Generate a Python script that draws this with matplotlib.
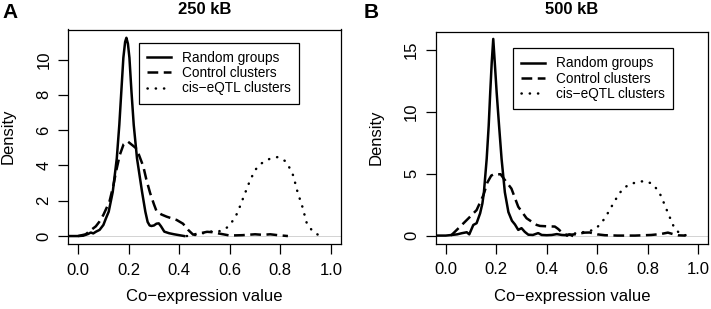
import numpy as np
import matplotlib
matplotlib.use("Agg")
from matplotlib import pyplot as plt

plt.rcParams['font.family'] = ['Liberation Sans', 'DejaVu Sans']

# ---- panel A (250 kB) ----
a_rand_x = [-0.04, 0.0, 0.02, 0.04, 0.05, 0.06, 0.071, 0.085, 0.10, 0.11, 0.121, 0.137, 0.153, 0.163,
            0.171, 0.179, 0.186, 0.191, 0.197, 0.203, 0.211, 0.22, 0.233, 0.253, 0.266, 0.275, 0.283,
            0.29, 0.30, 0.31, 0.319, 0.328, 0.341, 0.36, 0.38, 0.40, 0.42]
a_rand_y = [0, 0, 0.02, 0.12, 0.2, 0.15, 0.25, 0.35, 0.63, 1.0, 1.38, 2.5, 4.4, 6.3,
            8.2, 10.1, 11.0, 11.23, 10.9, 10.1, 8.2, 6.3, 4.4, 2.5, 1.38, 0.8, 0.6,
            0.57, 0.6, 0.7, 0.72, 0.55, 0.25, 0.16, 0.1, 0.05, 0.0]

a_ctrl_x = [0.0, 0.03, 0.051, 0.07, 0.084, 0.10, 0.124, 0.14, 0.15, 0.165, 0.18, 0.196, 0.21,
            0.229, 0.238, 0.258, 0.27, 0.285, 0.3, 0.311, 0.33, 0.35, 0.39, 0.415, 0.436, 0.455,
            0.48, 0.51, 0.53, 0.555, 0.6, 0.65, 0.7, 0.73, 0.76, 0.79, 0.83]
a_ctrl_y = [0.0, 0.1, 0.34, 0.55, 0.81, 1.2, 1.95, 2.9, 3.65, 4.6, 5.2, 5.36, 5.2,
            4.98, 4.7, 3.94, 3.2, 2.43, 1.8, 1.38, 1.22, 1.1, 0.91, 0.7, 0.34, 0.08,
            0.15, 0.24, 0.22, 0.15, 0.03, 0.05, 0.1, 0.07, 0.1, 0.05, 0.0]

a_cis_x = [0.43, 0.46, 0.49, 0.528, 0.561, 0.59, 0.611, 0.627, 0.64, 0.651, 0.664, 0.676, 0.689,
           0.704, 0.727, 0.756, 0.788, 0.818, 0.835, 0.851, 0.868, 0.887, 0.904, 0.924, 0.95, 0.96]
a_cis_y = [0.0, 0.05, 0.15, 0.26, 0.28, 0.49, 0.85, 1.23, 1.67, 2.08, 2.56, 3.0, 3.41,
           3.8, 4.13, 4.36, 4.47, 4.26, 3.9, 3.43, 2.5, 1.67, 0.76, 0.34, 0.06, 0.0]

# ---- panel B (500 kB) ----
b_rand_x = [-0.04, 0.0, 0.024, 0.045, 0.063, 0.083, 0.093, 0.109, 0.122, 0.136, 0.145, 0.151,
            0.162, 0.17, 0.176, 0.182, 0.188, 0.194, 0.2015, 0.211, 0.221, 0.234, 0.248, 0.262,
            0.274, 0.287, 0.3, 0.313, 0.327, 0.345, 0.366, 0.38, 0.4, 0.42, 0.44, 0.46, 0.48,
            0.49, 0.5]
b_rand_y = [0, 0, 0.05, 0.1, 0.19, 0.27, 0.1, 0.86, 1.0, 1.8, 2.6, 3.5,
            6.2, 8.9, 11.57, 14.0, 15.9, 14.0, 11.57, 8.9, 6.2, 3.5, 1.9, 1.2,
            0.9, 0.46, 0.6, 0.3, 0.07, 0.05, 0.2, 0.05, 0.03, 0.05, 0.12, 0.05, 0.03,
            0.1, 0.0]

b_ctrl_x = [0.02, 0.03, 0.057, 0.09, 0.122, 0.149, 0.165, 0.18, 0.195, 0.205, 0.217, 0.23,
            0.245, 0.26, 0.287, 0.32, 0.36, 0.373, 0.4, 0.432, 0.445, 0.46, 0.48, 0.51,
            0.55, 0.57, 0.6, 0.63, 0.68, 0.75, 0.814, 0.85, 0.88, 0.9, 0.92, 0.95]
b_ctrl_y = [0.0, 0.19, 0.73, 1.4, 2.06, 3.27, 4.3, 4.85, 5.0, 4.95, 4.96, 4.6,
            4.2, 3.8, 2.33, 1.4, 0.86, 0.78, 0.75, 0.73, 0.54, 0.25, 0.05, 0.1,
            0.24, 0.25, 0.1, 0.03, 0.0, 0.0, 0.05, 0.12, 0.24, 0.12, 0.02, 0.0]

b_cis_x = [0.48, 0.5, 0.524, 0.56, 0.59, 0.614, 0.632, 0.649, 0.665, 0.681, 0.70, 0.727,
           0.757, 0.788, 0.817, 0.84, 0.856, 0.867, 0.88, 0.893, 0.906, 0.926, 0.95, 0.96]
b_cis_y = [0.0, 0.1, 0.25, 0.3, 0.51, 0.94, 1.48, 2.06, 2.65, 3.19, 3.75, 4.15,
           4.31, 4.42, 4.2, 3.67, 3.08, 2.47, 1.85, 1.2, 0.59, 0.19, 0.03, 0.0]

series_names = ["Random groups", "Control clusters", "cis\u2212eQTL clusters"]
x_ticks = [0.0, 0.2, 0.4, 0.6, 0.8, 1.0]
a_yticks = [0, 2, 4, 6, 8, 10]
b_yticks = [0, 5, 10, 15]

W, H = 711, 309
fig = plt.figure(figsize=(W / 100, H / 100), dpi=100)


def box(l, t, r, b):
    return [l / W, 1 - b / H, (r - l) / W, (b - t) / H]


def panel(rect, curves, yticks, ylim, leg_anchor, title, letter, letter_x):
    ax = fig.add_axes(rect)
    lw = 1.8
    ax.axhline(0, color="#cccccc", lw=0.6, zorder=0)
    ax.plot(curves[0][0], curves[0][1], color="black", lw=lw, label=series_names[0])
    ax.plot(curves[1][0], curves[1][1], color="black", lw=lw, linestyle=(0, (4.3, 2.2)),
            label=series_names[1])
    ax.plot(curves[2][0], curves[2][1], color="black", lw=lw, linestyle=(0, (0.1, 3.2)),
            dash_capstyle="round", label=series_names[2])
    ax.set_xlim(-0.04, 1.04)
    ax.set_ylim(*ylim)
    ax.set_xticks(x_ticks)
    ax.set_xticklabels(["%.1f" % v for v in x_ticks])
    ax.set_yticks(yticks)
    ax.set_yticklabels([str(v) for v in yticks], rotation=90, va="center")
    ax.tick_params(axis="both", length=7, width=0.9, labelsize=12, colors="black")
    ax.tick_params(axis="x", pad=6.5)
    ax.tick_params(axis="y", pad=5)
    for s in ax.spines.values():
        s.set_linewidth(0.9)
    leg = ax.legend(loc="upper right", bbox_to_anchor=leg_anchor, fontsize=9.8,
                    frameon=True, fancybox=False, edgecolor="black", framealpha=1,
                    handlelength=1.75, handletextpad=0.8, labelspacing=0.1,
                    borderpad=0.6, borderaxespad=0)
    leg.get_frame().set_linewidth(0.9)
    pos = ax.get_position()
    cx = (pos.x0 + pos.x1) / 2
    fig.text(cx, 1 - 10 / H, title, ha="center", va="center", fontsize=12, fontweight="bold")
    fig.text(cx, 1 - 297 / H, "Co\u2212expression value", ha="center", va="center", fontsize=12)
    fig.text(pos.x0 - 59.5 / W, (pos.y0 + pos.y1) / 2, "Density", ha="center", va="center",
             rotation=90, fontsize=12)
    fig.text(letter_x / W, 1 - 12 / H, letter, ha="center", va="center", fontsize=15,
             fontweight="bold")
    return ax


panel(box(68, 29.5, 341, 244),
      [(a_rand_x, a_rand_y), (a_ctrl_x, a_ctrl_y), (a_cis_x, a_cis_y)],
      a_yticks, (-0.45, 11.7), (0.846, 0.939), "250 kB", "A", 10)
panel(box(435.7, 31.5, 708.3, 243.5),
      [(b_rand_x, b_rand_y), (b_ctrl_x, b_ctrl_y), (b_cis_x, b_cis_y)],
      b_yticks, (-0.64, 16.5), (0.869, 0.921), "500 kB", "B", 371)

fig.savefig("out.png", dpi=100)
